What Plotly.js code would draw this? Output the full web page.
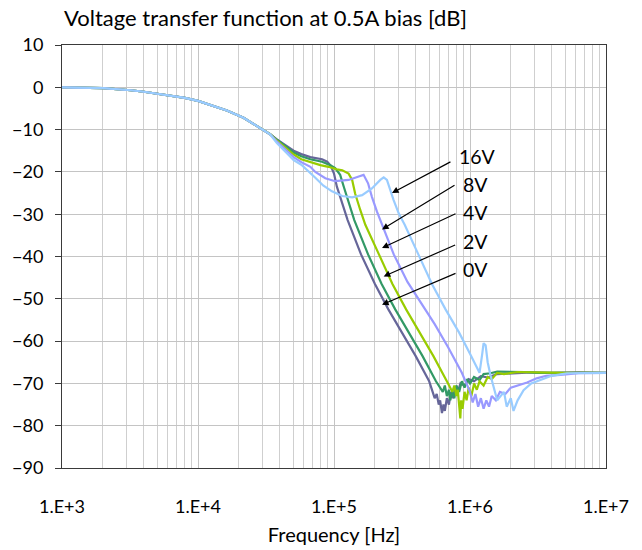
<!DOCTYPE html>
<html>
<head>
<meta charset="utf-8">
<script src="https://cdn.plot.ly/plotly-3.0.1.min.js"></script>
<style>html,body{margin:0;padding:0;background:#fff;}#chart{width:642px;height:550px;}</style>
</head>
<body>
<div id="chart"></div>
<script>
// ---- data ----
const seriesNames = ['0V', '2V', '4V', '8V', '16V'];
const seriesColors = ['#666699', '#339966', '#99CC00', '#9999FF', '#99CCFF'];

// shared low-frequency part (curves coincide)
const lowFreq = [1000, 1100, 1250, 1600, 2000, 2500, 3200, 4000, 5000, 6300, 8000, 10000, 12300, 16300, 21600, 28700, 33900];
const lowDb   = [0, 0, -0.1, -0.12, -0.2, -0.4, -0.7, -1.05, -1.55, -1.9, -2.5, -3.2, -4.1, -5.5, -7.2, -9.6, -11.1];

const freq0V = [38000, 44700, 50500, 57500, 67000, 81700, 89100, 94400, 100000, 105000, 115000, 126000, 158000, 200000, 251000, 316000, 398000, 501000, 525000, 550000, 569000, 589000, 603000, 622000, 638000, 653000, 676000, 700000, 724000, 750000, 776000, 813000, 851000, 912000, 977000, 1070000, 1200000, 1350000, 1580000, 2000000, 2820000, 3980000, 6310000, 10000000];
const db0V   = [-12.3, -13.8, -15.0, -15.8, -16.5, -17.0, -17.6, -18.5, -20.4, -23.5, -27.4, -31.4, -39.5, -46.5, -52.5, -58, -63.5, -69.5, -71.5, -73.5, -72.5, -75, -74, -77, -75, -76.5, -73.5, -75, -72, -73.5, -71, -72, -70, -70.5, -69, -69.5, -68.3, -68.6, -67.8, -67.6, -67.4, -67.5, -67.4, -67.5];

const freq2V = [38000, 44700, 50500, 57500, 67000, 81700, 94000, 102000, 111000, 118000, 129000, 141000, 178000, 224000, 282000, 355000, 447000, 562000, 631000, 653000, 676000, 700000, 716000, 741000, 767000, 794000, 832000, 871000, 912000, 955000, 1000000, 1070000, 1175000, 1259000, 1413000, 1585000, 1995000, 2512000, 3162000, 5012000, 10000000];
const db2V   = [-12.4, -14.1, -15.4, -16.3, -17.0, -17.6, -18.4, -19.1, -20.7, -23.5, -27.4, -31.4, -39.5, -46.5, -52.5, -58, -63.5, -69.5, -72, -70.5, -73, -71.5, -74, -72, -73.5, -70.5, -72, -69.5, -71, -69, -70, -68.5, -69.2, -67.8, -67.6, -67.2, -67.2, -67.3, -67.5, -67.5, -67.5];

const freq4V = [38000, 44700, 50500, 57500, 67000, 79400, 91200, 105000, 115000, 128000, 136000, 143000, 156000, 170000, 214000, 269000, 339000, 427000, 537000, 676000, 741000, 767000, 794000, 813000, 832000, 849000, 861000, 881000, 912000, 944000, 977000, 1023000, 1072000, 1122000, 1175000, 1259000, 1349000, 1445000, 1585000, 1778000, 2239000, 3162000, 5012000, 10000000];
const db4V   = [-12.6, -14.5, -15.9, -17.0, -17.7, -18.4, -18.8, -19.4, -19.6, -20.4, -21.9, -25.1, -29, -32.5, -39.5, -46.5, -52.5, -58, -63.5, -69.5, -72, -70.5, -73, -71.5, -74.5, -78.3, -74, -76, -72, -74, -71, -73, -70, -71.5, -69.5, -70.5, -68.5, -69, -67.5, -67.8, -67.3, -67.4, -67.5, -67.5];

const freq8V = [38000, 44700, 50500, 57500, 67000, 72900, 86300, 102000, 128000, 152000, 165000, 178000, 190000, 207000, 219000, 275000, 347000, 437000, 550000, 692000, 871000, 1000000, 1047000, 1096000, 1148000, 1202000, 1259000, 1318000, 1380000, 1445000, 1549000, 1660000, 1820000, 1995000, 2239000, 2630000, 3090000, 3631000, 4613000, 6310000, 10000000];
const db8V   = [-12.8, -14.9, -16.5, -17.7, -18.8, -20.0, -21.5, -22.2, -21.9, -21.1, -20.7, -22.7, -25.9, -29.4, -31.4, -39.5, -46, -51, -56, -61.5, -67.5, -72, -74.5, -72.5, -75.5, -73.5, -76, -74, -75.5, -73, -74, -72, -72.5, -71, -70.5, -69.8, -68.8, -68.2, -68, -67.6, -67.5];

const freq16V = [38000, 44700, 50500, 57500, 67000, 72900, 83200, 96600, 115000, 136000, 161000, 190000, 219000, 232000, 245000, 259000, 274000, 299000, 331000, 417000, 525000, 661000, 832000, 1000000, 1122000, 1175000, 1230000, 1259000, 1303000, 1349000, 1413000, 1585000, 1778000, 1862000, 1995000, 2089000, 2239000, 2477000, 2818000, 3289000, 3981000, 5164000, 10000000];
const db16V   = [-13.2, -15.6, -17.2, -18.3, -20.2, -21.4, -23.2, -24.6, -25.7, -26.0, -25.5, -23.9, -21.9, -21.3, -21.9, -24.3, -26.6, -29.8, -32.5, -39.5, -46.5, -52.5, -58, -63, -66, -67.5, -63, -60.5, -61, -65, -68, -74, -72, -75.5, -73.5, -76.5, -74, -71.6, -70, -69.2, -68.2, -67.6, -67.5];

const xTickVals = [1e3, 1e4, 1e5, 1e6, 1e7];
const xTickText = ['1.E+3', '1.E+4', '1.E+5', '1.E+6', '1.E+7'];

// ---- build ----
const freqs = [freq0V, freq2V, freq4V, freq8V, freq16V];
const dbs = [db0V, db2V, db4V, db8V, db16V];

const traces = seriesNames.map((name, i) => ({
  type: 'scatter',
  mode: 'lines',
  name: name,
  x: lowFreq.concat(freqs[i]),
  y: lowDb.concat(dbs[i]),
  line: {color: seriesColors[i], width: 2.2},
  hoverinfo: 'skip'
}));

const FONT = 'Lato, "Open Sans", sans-serif';
const plotL = 62, plotR = 606, plotT = 45, plotB = 468;
const pw = plotR - plotL, ph = plotB - plotT;
const px = v => (v - plotL) / pw;
const py = v => (plotB - v) / ph;

// arrow heads (log10 freq, dB) and tail offsets (pixels)
const arrowSpec = [
  {lbl: '16V', hx: 5.426, hy: -25.0, ax: 60, ay: -32, tx: 457, ty: 156},
  {lbl: '8V',  hx: 5.353, hy: -33.6, ax: 74, ay: -45, tx: 461, ty: 184},
  {lbl: '4V',  hx: 5.353, hy: -38.0, ax: 75, ay: -35, tx: 461, ty: 212.5},
  {lbl: '2V',  hx: 5.365, hy: -44.7, ax: 73, ay: -32, tx: 461, ty: 241},
  {lbl: '0V',  hx: 5.353, hy: -51.4, ax: 75, ay: -32, tx: 461, ty: 269}
];
const annotations = [];
arrowSpec.forEach(a => {
  annotations.push({
    xref: 'x', yref: 'y', x: a.hx, y: a.hy, ax: a.ax, ay: a.ay,
    text: '', showarrow: true, arrowhead: 2, arrowsize: 1.1, arrowwidth: 1.2, arrowcolor: '#000'
  });
  annotations.push({
    xref: 'paper', yref: 'paper', x: px(a.tx), y: py(a.ty), xanchor: 'left', yanchor: 'middle',
    text: a.lbl, showarrow: false, font: {family: FONT, size: 19.5, color: '#000'}
  });
});

const layout = {
  width: 642, height: 550,
  margin: {l: plotL, r: 642 - plotR, t: plotT, b: 550 - plotB, pad: 0},
  paper_bgcolor: '#fff', plot_bgcolor: '#fff',
  showlegend: false,
  font: {family: FONT, size: 18, color: '#000'},
  title: {
    text: 'Voltage transfer function at 0.5A bias [dB]',
    xref: 'container', yref: 'container', x: 64 / 642, xanchor: 'left', y: 1 - 18 / 550, yanchor: 'middle',
    font: {family: FONT, size: 22, color: '#000'}
  },
  xaxis: {
    type: 'log', range: [3, 7],
    tickmode: 'array', tickvals: xTickVals, ticktext: xTickText,
    ticks: '', ticklabelstandoff: 22,
    showgrid: true, gridcolor: '#c4c4c4', gridwidth: 1,
    minor: {dtick: 'D1', showgrid: true, gridcolor: '#cfcfcf', gridwidth: 1, ticks: ''},
    showline: true, linecolor: '#3a3a3a', linewidth: 1, mirror: true,
    zeroline: false,
    tickfont: {family: FONT, size: 18, color: '#000'},
    title: {text: 'Frequency [Hz]', standoff: 12, font: {family: FONT, size: 20, color: '#000'}}
  },
  yaxis: {
    range: [-90, 10], dtick: 10, tick0: 0,
    ticks: 'outside', ticklen: 6, tickcolor: '#3a3a3a', ticklabelstandoff: 8,
    showgrid: true, gridcolor: '#c4c4c4', gridwidth: 1,
    showline: true, linecolor: '#3a3a3a', linewidth: 1, mirror: true,
    zeroline: false,
    tickfont: {family: FONT, size: 18, color: '#000'}
  },
  shapes: [{
    type: 'rect', xref: 'paper', yref: 'paper', layer: 'between',
    x0: px(448), x1: px(498), y0: py(287), y1: py(137),
    fillcolor: '#fff', line: {width: 0}
  }],
  annotations: annotations
};

Plotly.newPlot('chart', traces, layout, {staticPlot: true, displayModeBar: false});
</script>
</body>
</html>
